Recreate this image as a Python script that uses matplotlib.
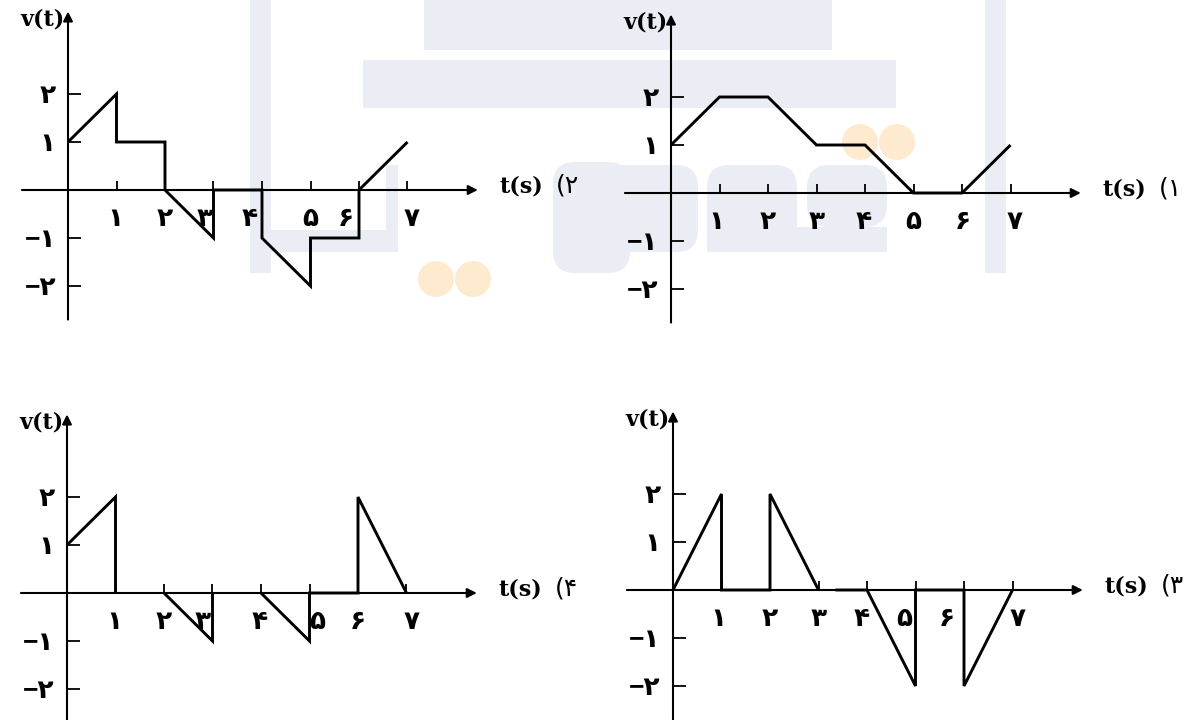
import numpy as np
import matplotlib.pyplot as plt
from matplotlib.patches import Rectangle, FancyBboxPatch, Circle

# ---- signal data, one pair of arrays per option (nan = pen lifted) ----
# option 1 (top right)
t1 = [0, 1, 2, 3, 4, 5, 6, 7]
v1 = [1, 2, 2, 1, 1, 0, 0, 1]
# option 2 (top left)
t2 = [0, 1, 1, 2, 2, 3, 3, 4, 4, 5, 5, 6, 6, 7]
v2 = [1, 2, 1, 1, 0, -1, 0, 0, -1, -2, -1, -1, 0, 1]
# option 3 (bottom right)
t3 = [0, 1, 1, 2, 2, 3, np.nan, 3.35, 4, 5, 5, 6, 6, 7]
v3 = [0, 2, 0, 0, 2, 0, np.nan, 0, 0, -2, 0, 0, -2, 0]
# option 4 (bottom left)
t4 = [0, 1, 1, np.nan, 2, 3, 3, np.nan, 4, 5, 5, 6, 6, 7]
v4 = [1, 2, 0, np.nan, 0, -1, 0, np.nan, 0, -1, 0, 0, 2, 0]

t_ticks = [1, 2, 3, 4, 5, 6, 7]
t_labels = ['۱', '۲', '۳', '۴', '۵', '۶', '۷']
v_ticks = [-2, -1, 1, 2]
v_labels = ['−۲', '−۱', '۱', '۲']
options = ['(۱', '(۲', '(۳', '(۴']

W, H = 1195, 720
UX, UY = 48.5, 48.0          # pixels per unit
XL, YL = (-1.25, 11.3), (-3.0, 4.0)

# origin in pixels (from top-left) + nudges of the t labels where lines cross them
panels = [
    (t1, v1, options[0], (671, 193), [-0.06, 0, 0, -0.03, 0, 0.02, 0.08]),
    (t2, v2, options[1], (68, 190), [-0.03, 0, -0.18, -0.25, 0, -0.27, 0.08]),
    (t3, v3, options[2], (673, 590), [-0.06, 0, 0, -0.1, -0.24, -0.35, 0.1]),
    (t4, v4, options[3], (67, 593), [-0.03, 0, -0.2, -0.03, 0.17, 0, 0.1]),
]

fig = plt.figure(figsize=(W / 100, H / 100), dpi=100)
fig.patch.set_facecolor('white')

# faint watermark logo in the background
bg = fig.add_axes([0, 0, 1, 1])
bg.set_xlim(0, W)
bg.set_ylim(H, 0)
bg.axis('off')
wm = '#eaeef4'
for x, y, w, h in [(424, 0, 408, 50), (363, 60, 533, 48), (250, 0, 21, 273), (985, 0, 21, 273),
                   (265, 230, 130, 22), (386, 165, 12, 87)]:
    bg.add_patch(Rectangle((x, y), w, h, color=wm, lw=0))
for x, y, w, h in [(553, 162, 77, 111), (600, 165, 98, 87), (707, 165, 90, 87), (807, 165, 80, 62)]:
    bg.add_patch(FancyBboxPatch((x, y), w, h, boxstyle='round,pad=0,rounding_size=22',
                                fc=wm, ec='none'))
bg.add_patch(Rectangle((707, 227), 180, 25, color=wm, lw=0))
for cx, cy in [(436, 279), (473, 279), (860, 142), (897, 142)]:
    bg.add_patch(Circle((cx, cy), 18, color='#fdeacf', lw=0))

digit_font = ['Liberation Sans', 'DejaVu Sans']
serif_font = ['DejaVu Serif', 'DejaVu Sans']

for t, v, opt, (ox, oy), offs in panels:
    left = ox + XL[0] * UX
    bottom = H - (oy - YL[0] * UY)
    ax = fig.add_axes([left / W, bottom / H, (XL[1] - XL[0]) * UX / W, (YL[1] - YL[0]) * UY / H])
    ax.set_xlim(XL)
    ax.set_ylim(YL)
    ax.axis('off')
    ax.patch.set_alpha(0)

    arrow = dict(arrowstyle='-|>', color='black', lw=1.5, mutation_scale=14, shrinkA=0, shrinkB=0)
    ax.annotate('', xy=(8.45, 0), xytext=(-0.95, 0), arrowprops=arrow)
    ax.annotate('', xy=(0, 3.72), xytext=(0, -2.7), arrowprops=arrow)
    ax.vlines(t_ticks, 0, 0.19, color='black', lw=1.3)
    ax.hlines(v_ticks, 0, 0.27, color='black', lw=1.3)

    ax.plot(t, v, color='black', lw=2.1, solid_joinstyle='miter', solid_capstyle='butt')

    for tk, lab, d in zip(t_ticks, t_labels, offs):
        ax.text(tk + d, -0.6, lab, ha='center', va='center', fontsize=19,
                fontweight='bold', family=digit_font)
    for vk, lab in zip(v_ticks, v_labels):
        ax.text(-0.25, vk - 0.05, lab, ha='right', va='center', fontsize=19,
                fontweight='bold', family=digit_font)

    ax.text(-0.07, 3.55, 'v(t)', ha='right', va='center', fontsize=16,
            fontweight='bold', family=serif_font)
    ax.text(8.9, 0.08, 't(s)', ha='left', va='center', fontsize=16,
            fontweight='bold', family=serif_font)
    ax.text(10.05, 0.1, opt, ha='left', va='center', fontsize=18,
            family=['DejaVu Sans'])

fig.savefig('out.png', dpi=100)
